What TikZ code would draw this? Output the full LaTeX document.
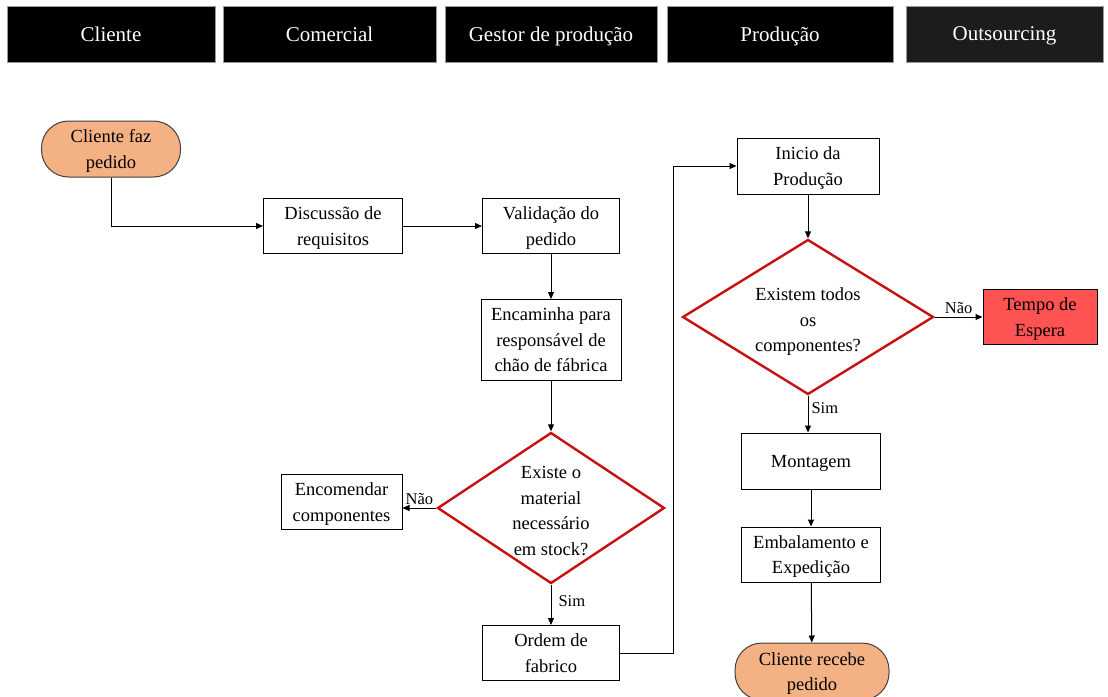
\documentclass[tikz,border=0pt]{standalone}
\usepackage{fontspec}
\setmainfont{Liberation Serif}
\usetikzlibrary{shapes.geometric, arrows.meta, positioning}
\definecolor{cOrange}{RGB}{244,177,131}
\definecolor{cRed}{RGB}{255,82,82}
\definecolor{cEdge}{RGB}{200,16,16}
\definecolor{cHead}{RGB}{28,28,28}
\tikzset{
  basebox/.style={rectangle, draw=black, line width=1pt, align=center,
                  inner sep=0pt, text depth=0pt,
                  font=\fontsize{18.5}{25.5}\selectfont},
  headbox/.style={rectangle, fill=black, draw=black!40, line width=0.8pt,
                  text=white, minimum height=56pt, inner sep=0pt, text depth=0pt,
                  font=\fontsize{21}{24}\selectfont},
  procnode/.style={basebox, minimum width=139pt, minimum height=55pt},
  termnode/.style={basebox, fill=cOrange, draw=black!75, rounded corners=27pt,
                   minimum height=56pt},
  waitnode/.style={basebox, fill=cRed, minimum width=114pt, minimum height=55pt},
  decisionnode/.style={diamond, draw=cEdge, line width=2.4pt, inner sep=0pt},
  decisiontext/.style={align=center, text depth=0pt, yshift=-3pt,
                       font=\fontsize{18.5}{25.5}\selectfont},
  edgelabel/.style={font=\fontsize{16.5}{18}\selectfont, inner sep=3pt},
  arrow/.style={-{Triangle[length=7pt, width=6pt]}, line width=1pt, color=black}
}
\begin{document}
\begin{tikzpicture}[x=1pt, y=-1pt]
  \useasboundingbox (0,0) rectangle (1108,696);

  % cabecalho
  \node[headbox, minimum width=208pt] (hCliente) at (111,34) {Cliente};
  \node[headbox, minimum width=213pt] (hComercial) at (329.5,34) {Comercial};
  \node[headbox, minimum width=212pt] (hGestor) at (551,34) {Gestor de produção};
  \node[headbox, minimum width=226pt] (hProducao) at (780,34) {Produção};
  \node[headbox, minimum width=197pt, fill=cHead] (hOutsourcing) at (1004.5,34) {Outsourcing};

  % fluxo
  \node[termnode, minimum width=139pt] (cliPedido) at (111,149) {Cliente faz\\pedido};
  \node[procnode] (discReq) at (333,226) {Discussão de\\requisitos};
  \node[procnode, minimum width=137pt] (validPed) at (551,226) {Validação do\\pedido};
  \node[procnode, minimum width=140pt, minimum height=81pt] (encaminha) at (551,340)
      {Encaminha para\\responsável de\\chão de fábrica};
  \node[decisionnode, minimum width=227pt, minimum height=151pt,
        label={[decisiontext]center:Existe o\\material\\necessário\\em stock?}] (stock) at (551,508) {};
  \node[procnode, minimum width=121pt] (encomenda) at (341.5,502) {Encomendar\\componentes};
  \node[procnode, minimum width=137pt] (ordem) at (551,653) {Ordem de\\fabrico};

  \node[procnode, minimum width=142pt, minimum height=56pt] (inicio) at (808,166) {Inicio da\\Produção};
  \node[decisionnode, minimum width=251pt, minimum height=155pt,
        label={[decisiontext]center:Existem todos\\os\\componentes?}] (comps) at (808,317) {};
  \node[waitnode] (espera) at (1040,317) {Tempo de\\Espera};
  \node[procnode, minimum height=56pt] (montagem) at (811,461) {Montagem};
  \node[procnode] (embala) at (811,554.5) {Embalamento e\\Expedição};
  \node[termnode, minimum width=154pt, minimum height=57pt] (cliRecebe) at (812,671.5) {Cliente recebe\\pedido};

  \coordinate (retorno) at (673,653);

  \draw[arrow] (cliPedido.south) |- (discReq.west);
  \draw[arrow] (discReq) -- (validPed);
  \draw[arrow] (validPed) -- (encaminha);
  \draw[arrow] (encaminha) -- (stock);
  \draw[arrow] (stock.west) -- node[edgelabel, above] {Não} (stock.west -| encomenda.east);
  \draw[arrow] (stock.south) -- node[edgelabel, right, pos=0.4, xshift=4pt] {Sim} (ordem.north);
  \draw[arrow] (ordem.east) -- (retorno) |- (inicio.west);
  \draw[arrow] (inicio) -- (comps);
  \draw[arrow] (comps.east) -- node[edgelabel, above] {Não} (espera.west);
  \draw[arrow] (comps.south) -- node[edgelabel, right, pos=0.35] {Sim} (comps.south |- montagem.north);
  \draw[arrow] (montagem) -- (embala);
  \draw[arrow] (embala) -- (cliRecebe);
\end{tikzpicture}
\end{document}
